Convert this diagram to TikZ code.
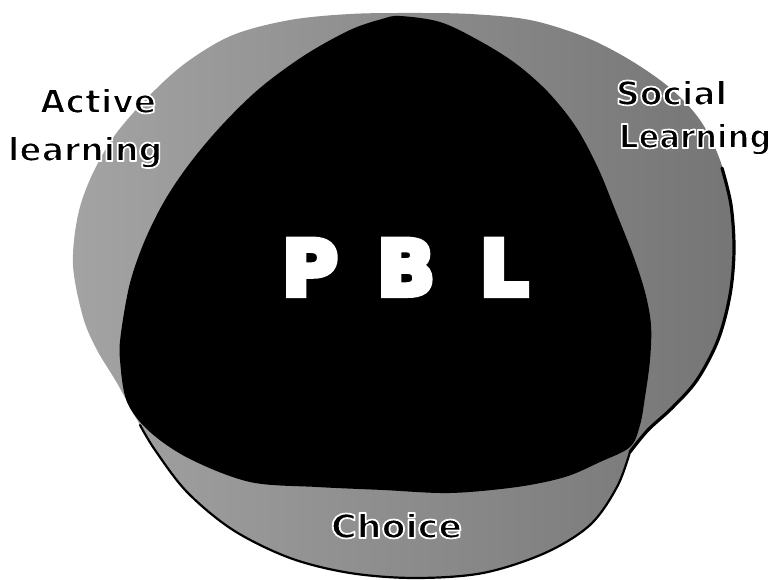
\documentclass[tikz,border=0pt]{standalone}
\usepackage{fontspec}
\setmainfont{DejaVu Sans}
\newcommand{\halotext}[2][1.7]{\special{pdf:literal direct 1 j #1 w 1 1 1 RG 2 Tr}#2\special{pdf:literal direct 0 Tr}}
\newcommand{\heavywhite}[2][6]{\special{pdf:literal direct 0 j #1 w 1 1 1 RG 2 Tr}#2\special{pdf:literal direct 0 Tr}}
\definecolor{greyL}{gray}{0.64}
\definecolor{greyR}{gray}{0.46}
\begin{document}
\begin{tikzpicture}[x=1pt,y=-1pt,
  lbl/.style={anchor=base west,inner sep=0pt,outer sep=0pt,text=black,font=\fontsize{33}{38}\selectfont\bfseries},
  pbl/.style={anchor=base,inner sep=0pt,outer sep=0pt,text=white,font=\fontsize{76}{80}\selectfont\bfseries}]
\useasboundingbox (0,0) rectangle (782,580);
% grey circles (union silhouette)
\shade[left color=greyL,right color=greyR] plot[smooth cycle,tension=0.55] coordinates {
  (73,265) (78,215) (92,175) (115,135) (150,95) (187,62) (233,35) (290,20) (350,14)
  (410,13) (470,14) (530,20) (585,37) (630,60) (670,88) (700,120) (720,160) (731,205)
  (734,250) (730,295) (718,340) (697,380) (672,408) (648,430) (630,452) (617,487)
  (590,525) (545,553) (483,573) (415,578) (350,573) (290,558) (233,530) (187,492)
  (155,450) (140,425) (117,383) (97,350) (83,317)};
% outer outline along the lower and right edges
\draw[line width=2.2pt,line cap=round] plot[smooth,tension=0.55] coordinates {
  (140,425) (155,450) (187,492) (233,530) (290,558) (350,573) (415,578) (483,573)
  (545,553) (590,525) (617,487) (630,452)};
\draw[line width=3.2pt,line cap=round] plot[smooth,tension=0.55] coordinates {
  (630,452) (648,430) (672,408) (697,380) (718,340) (730,295) (734,250) (731,205) (722,168)};
% black PBL region
\fill[black] plot[smooth cycle,tension=0.55] coordinates {
  (400,16) (440,22) (478,40) (515,63) (548,92) (576,127) (598,168) (616,212)
  (633,255) (645,292) (651,325) (650,360) (645,397) (640,425) (630,447) (600,462)
  (565,477) (517,487) (450,493) (383,490) (317,487) (250,482) (190,459) (150,432)
  (127,402) (120,360) (121,333) (130,283) (145,240) (165,200) (190,163) (222,125)
  (260,88) (305,55) (350,30) (382,19)};
% labels
\node[lbl] (active) at (40,113) {\halotext{Active}};
\node[lbl] (learning) at (8,161) {\halotext{learning}};
\node[lbl] (social) at (616,105) {\halotext{Social}};
\node[lbl] (learning2) at (619,148) {\scalebox{0.93}[1]{\halotext{Learning}}};
\node[lbl] (choice) at (331,538) {\scalebox{1.06}[1]{\halotext{Choice}}};
\node[pbl] (p) at (310,295) {\heavywhite{P}};
\node[pbl] (b) at (406,295) {\heavywhite{B}};
\node[pbl] (l) at (504,295) {\heavywhite{L}};
\end{tikzpicture}
\end{document}
